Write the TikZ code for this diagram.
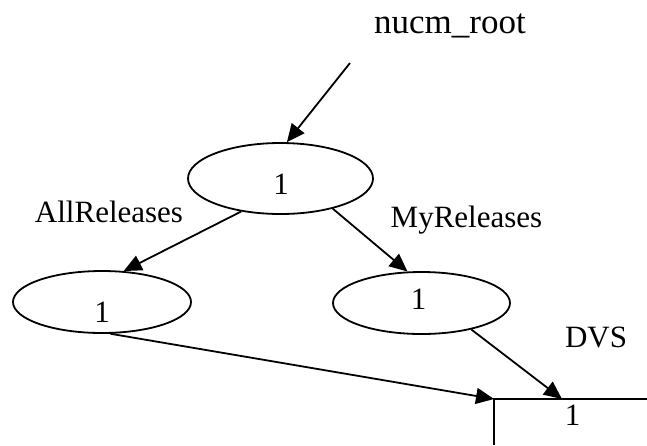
\documentclass[tikz,border=0pt]{standalone}
\usepackage{fontspec}
\setmainfont{Liberation Serif}
\usetikzlibrary{shapes.geometric,arrows.meta}

\tikzset{
  oval/.style={draw, ellipse, line width=1.8pt, inner sep=0pt},
  label text/.style={anchor=base, inner sep=0pt, font=\fontsize{31}{37}\selectfont},
  root text/.style={anchor=base, inner sep=0pt, font=\fontsize{35}{42}\selectfont},
  link/.style={line width=1.8pt, -{Triangle[length=18pt,width=16pt]}},
  edge line/.style={line width=1.8pt}
}

\begin{document}
\begin{tikzpicture}[x=1pt, y=-1pt]
  \useasboundingbox (0,0) rectangle (647,445);

  % version nodes
  \node[oval, minimum width=185pt, minimum height=71pt] (top) at (280.5,178.5) {};
  \node[oval, minimum width=178pt, minimum height=62pt] (left) at (102,302) {};
  \node[oval, minimum width=177pt, minimum height=62pt] (right) at (421.5,303) {};

  % numbers inside the nodes
  \node[label text] (topnum) at (281,194) {1};
  \node[label text] (leftnum) at (102,322) {1};
  \node[label text] (rightnum) at (418.5,309) {1};
  \node[label text] (boxnum) at (572.5,425) {1};

  % names
  \node[root text] (rootname) at (450,33) {nucm\_root};
  \node[label text] (allrel) at (109,222) {AllReleases};
  \node[label text] (myrel) at (466.5,227) {MyReleases};
  \node[label text] (dvs) at (596,347) {DVS};

  % DVS box corner
  \coordinate (box) at (494,399);
  \coordinate (boxright) at (647,399);
  \coordinate (boxbottom) at (494,445);
  \coordinate (boxin) at (562,399);
  \draw[edge line] (boxright) -- (box) -- (boxbottom);

  % connectors
  \coordinate (rootend) at (350,63);
  \draw[link] (rootend) -- (top.80);
  \draw[link] (top.220) -- (left.55);
  \draw[link] (top.330) -- (right.114);
  \draw[link] (left.285) -- (box);
  \draw[link] (right.332) -- (boxin);
\end{tikzpicture}
\end{document}
